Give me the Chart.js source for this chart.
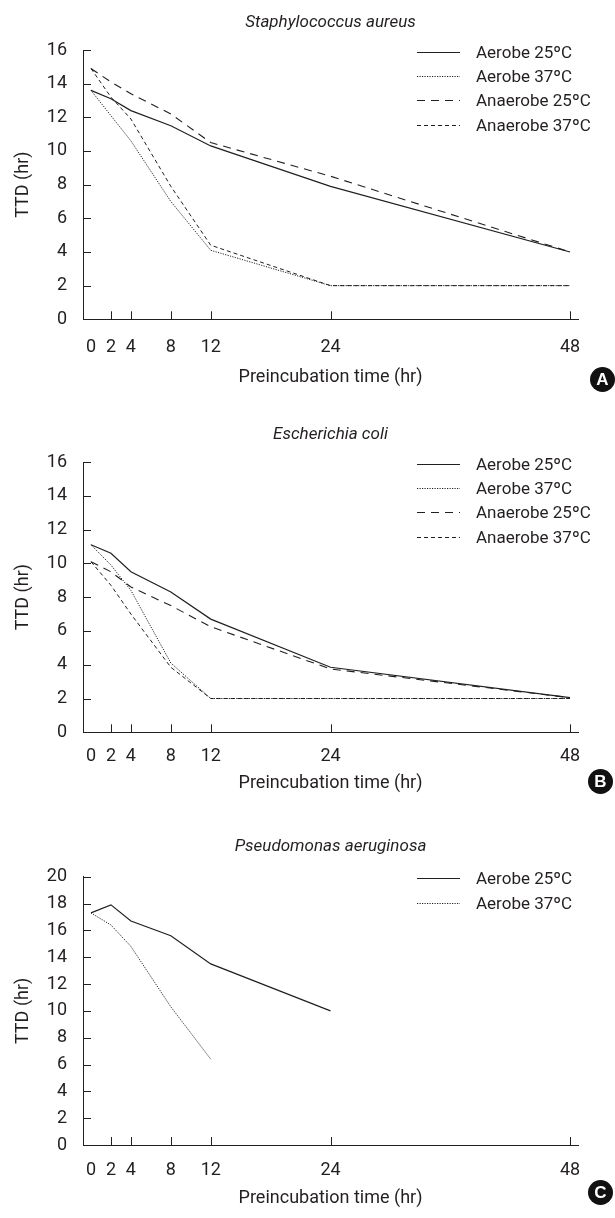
<!DOCTYPE html>
<html>
<head>
<meta charset="utf-8">
<script src="https://cdn.jsdelivr.net/npm/chart.js@4"></script>
<style>
  body { margin: 0; background: #fff; }
  #wrap { position: relative; width: 615px; height: 1218px; }
  .panel { position: absolute; left: 0; width: 615px; }
  .badge {
    position: absolute; width: 25px; height: 25px; border-radius: 50%;
    background: #111; color: #fff; font: bold 17px "Liberation Sans", Arial, sans-serif;
    text-align: center; line-height: 25px;
  }
</style>
</head>
<body>
<div id="wrap">
  <div class="panel" style="top:0px;height:405px"><canvas id="chartA"></canvas></div>
  <div class="panel" style="top:405px;height:405px"><canvas id="chartB"></canvas></div>
  <div class="panel" style="top:810px;height:408px"><canvas id="chartC"></canvas></div>
  <div class="badge" style="left:590px;top:367px">A</div>
  <div class="badge" style="left:588px;top:769px">B</div>
  <div class="badge" style="left:588px;top:1180px">C</div>
</div>
<script>
var FONT = 'Roboto, "Liberation Sans", sans-serif';
var INK = '#231f20';
var TICK_SIZE = 18, AXIS_SIZE = 18, TITLE_SIZE = 17, LEGEND_SIZE = 17;

// preincubation time points (hr)
var hours = [0, 2, 4, 8, 12, 24, 48];

// A - Staphylococcus aureus, TTD (hr)
var aer25A = [13.6, 13.1, 12.4, 11.5, 10.3, 7.9, 4.0];
var aer37A = [13.6, 12.1, 10.6, 7.0, 4.1, 2.0, 2.0];
var ana25A = [14.9, 14.1, 13.4, 12.2, 10.5, 8.5, 4.0];
var ana37A = [14.9, 13.2, 11.9, 7.9, 4.4, 2.0, 2.0];

// B - Escherichia coli
var aer25B = [11.1, 10.6, 9.5, 8.3, 6.7, 3.85, 2.05];
var aer37B = [11.1, 9.9, 8.4, 4.1, 2.0, 2.0, 2.0];
var ana25B = [10.1, 9.5, 8.6, 7.5, 6.25, 3.75, 2.05];
var ana37B = [10.1, 8.7, 7.0, 3.85, 2.0, 2.0, 2.0];

// C - Pseudomonas aeruginosa (no data past 24 / 12 hr)
var aer25C = [17.3, 17.9, 16.7, 15.6, 13.5, 10.0, null];
var aer37C = [17.3, 16.4, 14.8, 10.3, 6.4, null, null];

var seriesNames = ['Aerobe 25ºC', 'Aerobe 37ºC', 'Anaerobe 25ºC', 'Anaerobe 37ºC'];
var seriesDash = [[], [1.2, 1.3], [8, 6], [4, 3]];
var seriesWidth = [1.2, 1, 1.1, 1];

function toPoints(values) {
  return hours.map(function (h, i) { return {x: h, y: values[i]}; });
}

// inward tick marks + line-sample legend inside the plot
var decoPlugin = {
  id: 'deco',
  afterDraw: function (chart) {
    var ctx = chart.ctx;
    var area = chart.chartArea;
    var xs = chart.scales.x, ys = chart.scales.y;
    ctx.save();
    ctx.strokeStyle = INK;
    ctx.lineWidth = 1;
    ctx.beginPath();
    xs.ticks.forEach(function (t) {
      if (t.value === 0) return;
      var px = Math.round(xs.getPixelForValue(t.value)) + 0.5;
      ctx.moveTo(px, area.bottom);
      ctx.lineTo(px, area.bottom - 8);
    });
    ys.ticks.forEach(function (t) {
      if (t.value === 0) return;
      var py = Math.round(ys.getPixelForValue(t.value)) + 0.5;
      ctx.moveTo(area.left, py);
      ctx.lineTo(area.left + 8, py);
    });
    ctx.stroke();

    // legend
    ctx.font = LEGEND_SIZE + 'px ' + FONT;
    ctx.fillStyle = INK;
    ctx.textBaseline = 'middle';
    chart.data.datasets.forEach(function (ds, i) {
      var y = Math.round(area.top + 1.5 + i * 24.4) + 0.5;
      ctx.setLineDash(ds.borderDash);
      ctx.lineWidth = ds.borderWidth;
      ctx.beginPath();
      ctx.moveTo(417, y);
      ctx.lineTo(460, y);
      ctx.stroke();
      ctx.setLineDash([]);
      ctx.fillText(ds.label, 476, y + 1);
    });
    ctx.restore();
  }
};

// opts: title, series, yMax, height, chartTop, chartBottom, titleCenter, labelCenter, axisTitleCenter
function addPanel(id, opts) {
  var elem = document.getElementById(id);
  var titleHalf = TITLE_SIZE * 1.2 / 2;
  var tickHalf = TICK_SIZE * 1.2 / 2;
  var axisHalf = AXIS_SIZE * 1.2 / 2;
  var datasets = opts.series.map(function (values, i) {
    return {
      label: seriesNames[i],
      data: toPoints(values),
      borderColor: INK,
      borderWidth: seriesWidth[i],
      borderDash: seriesDash[i],
      pointRadius: 0,
      tension: 0,
      fill: false
    };
  });
  return new Chart(elem, {
    type: 'line',
    data: {datasets: datasets},
    plugins: [decoPlugin],
    options: {
      responsive: false,
      animation: false,
      events: [],
      layout: {padding: {top: 0, left: 0, right: 37, bottom: 0}},
      plugins: {
        legend: {display: false},
        tooltip: {enabled: false},
        title: {
          display: true,
          fullSize: false,
          text: opts.title,
          color: INK,
          font: {family: FONT, size: TITLE_SIZE, style: 'italic', weight: 'normal'},
          padding: {top: opts.titleCenter - titleHalf, bottom: opts.chartTop - opts.titleCenter - titleHalf}
        }
      },
      scales: {
        x: {
          type: 'linear',
          min: -0.8,
          max: 48.8,
          afterBuildTicks: function (scale) {
            scale.ticks = hours.map(function (h) { return {value: h}; });
          },
          afterFit: function (scale) {
            scale.height = opts.height - opts.chartBottom;
          },
          grid: {display: false, drawTicks: false},
          border: {display: true, color: INK, width: 1},
          ticks: {
            color: INK, padding: opts.labelCenter - tickHalf, maxRotation: 0, autoSkip: false,
            font: {family: FONT, size: TICK_SIZE}
          },
          title: {
            display: true, text: 'Preincubation time (hr)', color: INK,
            font: {family: FONT, size: AXIS_SIZE},
            padding: {top: 0, bottom: opts.height - opts.chartBottom - opts.axisTitleCenter - axisHalf}
          }
        },
        y: {
          min: 0,
          max: opts.yMax,
          afterFit: function (scale) {
            scale.width = 83;
          },
          grid: {display: false, drawTicks: false},
          border: {display: true, color: INK, width: 1},
          ticks: {
            stepSize: 2, color: INK, padding: 16, autoSkip: false,
            font: {family: FONT, size: TICK_SIZE}
          },
          title: {
            display: true, text: 'TTD (hr)', color: INK,
            font: {family: FONT, size: AXIS_SIZE},
            padding: {top: 23 - axisHalf, bottom: 0}
          }
        }
      }
    }
  });
}

function sizeCanvas(id, h) {
  var c = document.getElementById(id);
  c.width = 615;
  c.height = h;
  c.style.width = '615px';
  c.style.height = h + 'px';
}

sizeCanvas('chartA', 405);
sizeCanvas('chartB', 405);
sizeCanvas('chartC', 408);

// label / title centres are measured below the x axis
addPanel('chartA', {
  title: 'Staphylococcus aureus', series: [aer25A, aer37A, ana25A, ana37A], yMax: 16,
  height: 405, chartTop: 50, chartBottom: 319.3, titleCenter: 23, labelCenter: 28, axisTitleCenter: 58.5
});
addPanel('chartB', {
  title: 'Escherichia coli', series: [aer25B, aer37B, ana25B, ana37B], yMax: 16,
  height: 405, chartTop: 57, chartBottom: 327.3, titleCenter: 30, labelCenter: 24.5, axisTitleCenter: 51
});
addPanel('chartC', {
  title: 'Pseudomonas aeruginosa', series: [aer25C, aer37C], yMax: 20,
  height: 408, chartTop: 66.7, chartBottom: 335, titleCenter: 36.7, labelCenter: 25, axisTitleCenter: 53
});
</script>
</body>
</html>
